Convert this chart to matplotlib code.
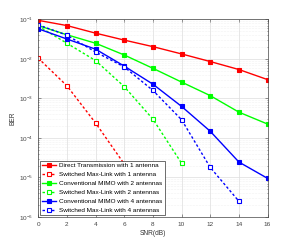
import numpy as np
import matplotlib
matplotlib.use("Agg")
import matplotlib.pyplot as plt
from matplotlib.ticker import LogLocator, NullFormatter

# ---------------- DATA ----------------
snr = [0, 2, 4, 6, 8, 10, 12, 14, 16]

direct_1 = [0.095, 0.070, 0.045, 0.030, 0.0205, 0.0134, 0.0086, 0.0054, 0.0030]
maxlink_1 = [0.0105, 0.0021, 2.4e-4, 2.2e-5]
mimo_2 = [0.070, 0.041, 0.025, 0.0126, 0.0058, 0.0026, 0.00118, 4.5e-4, 2.25e-4]
maxlink_2 = [0.068, 0.025, 0.0091, 0.0020, 3.0e-4, 2.3e-5]
mimo_4 = [0.058, 0.032, 0.0177, 0.0066, 0.0023, 6.3e-4, 1.48e-4, 2.46e-5, 9.5e-6]
maxlink_4 = [0.073, 0.040, 0.015, 0.0063, 0.0016, 2.9e-4, 1.8e-5, 2.5e-6]

labels = [
    "Direct Transmission with 1 antenna",
    "Switched Max-Link with 1 antenna",
    "Conventional MIMO with 2 antennas",
    "Switched Max-Link with 2 antennas",
    "Conventional MIMO with 4 antennas",
    "Switched Max-Link with 4 antennas",
]

plt.rcParams["font.family"] = ["Liberation Sans", "DejaVu Sans"]
plt.rcParams["mathtext.fontset"] = "custom"
plt.rcParams["mathtext.rm"] = "Liberation Sans"

fig = plt.figure(figsize=(2.96, 2.43), dpi=100)
ax = fig.add_axes([0.129, 0.107, 0.775, 0.813])

series = [
    (direct_1, "#ff0000", "-", True),
    (maxlink_1, "#ff0000", "--", False),
    (mimo_2, "#00ff00", "-", True),
    (maxlink_2, "#00ff00", "--", False),
    (mimo_4, "#0000ff", "-", True),
    (maxlink_4, "#0000ff", "--", False),
]

for (vals, col, ls, filled), lab in zip(series, labels):
    x = snr[:len(vals)]
    line, = ax.semilogy(x, vals, ls, color=col, lw=1.0, marker="s", ms=2.6,
                        mfc=col if filled else "white", mec=col, mew=0.8,
                        label=lab)
    if ls == "--":
        line.set_dashes((1.8, 1.6))

ax.set_xlim(0, 16)
ax.set_ylim(1e-6, 1e-1)
ax.set_xticks(range(0, 17, 2))
ax.yaxis.set_major_locator(LogLocator(base=10, numticks=10))
ax.yaxis.set_minor_locator(LogLocator(base=10, subs=np.arange(2, 10), numticks=20))
ax.yaxis.set_minor_formatter(NullFormatter())

ax.grid(True, which="major", color="#dddddd", lw=0.5)
ax.grid(True, which="minor", axis="y", color="#e6e6e6", lw=0.4, ls=":")
ax.tick_params(which="both", direction="in", top=True, right=True,
               labelsize=4.6, colors="#444444", length=2, width=0.4)
ax.tick_params(which="minor", length=1)
for sp in ax.spines.values():
    sp.set_color("#444444")
    sp.set_linewidth(0.5)

ax.set_xlabel("SNR(dB)", fontsize=4.8, labelpad=2, color="#333333")
ax.set_ylabel("BER", fontsize=4.8, labelpad=2, color="#333333")

leg = ax.legend(loc="lower left", fontsize=4.6, frameon=True, fancybox=False,
                framealpha=1, edgecolor="#333333", handlelength=2.2,
                borderpad=0.3, labelspacing=0.55, handletextpad=0.5,
                borderaxespad=0.3)
leg.get_frame().set_linewidth(0.5)

fig.savefig("out.png", dpi=100)
